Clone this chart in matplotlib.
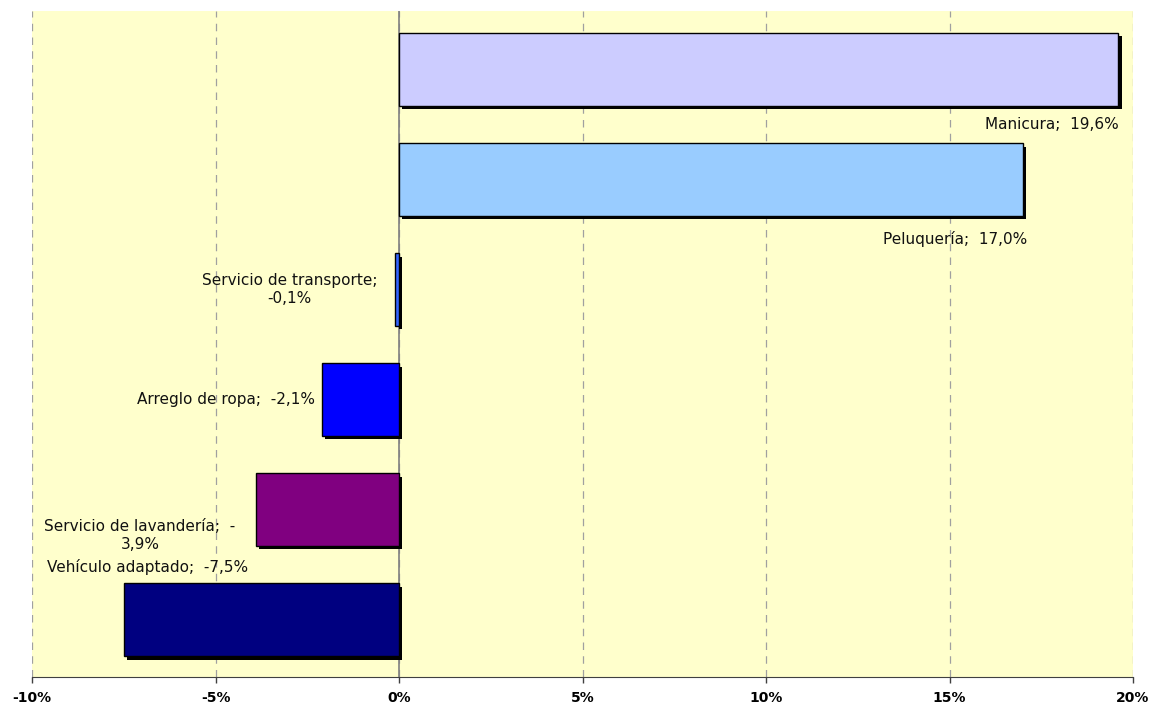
import matplotlib.pyplot as plt
import matplotlib.patheffects as pe
from matplotlib.ticker import FuncFormatter

categories = ["Manicura", "Peluquería", "Servicio de transporte",
              "Arreglo de ropa", "Servicio de lavandería", "Vehículo adaptado"]
values = [19.6, 17.0, -0.1, -2.1, -3.9, -7.5]
labels = ["Manicura;  19,6%", "Peluquería;  17,0%", "Servicio de transporte;\n-0,1%",
          "Arreglo de ropa;  -2,1%", "Servicio de lavandería;  -\n3,9%", "Vehículo adaptado;  -7,5%"]
colors = ["#CCCCFF", "#99CCFF", "#3366FF", "#0000FF", "#800080", "#000080"]

plt.rcParams['font.family'] = ['DejaVu Sans']

fig = plt.figure(figsize=(11.54, 7.09), dpi=100)
ax = fig.add_axes([32 / 1154, 1 - 677 / 709, 1101 / 1154, 666 / 709])
ax.set_facecolor("#FFFFCC")

ypos = list(range(len(categories)))
shadow = [pe.withSimplePatchShadow(offset=(2.5, -2.5), shadow_rgbFace="black", alpha=1.0)]
bars = ax.barh(ypos, values, height=0.66, color=colors, edgecolor="black",
               linewidth=1.0, zorder=3)
for b in bars:
    b.set_path_effects(shadow)

ax.set_xlim(-10, 20)
ax.set_ylim(5.52, -0.53)
ax.set_xticks([-10, -5, 0, 5, 10, 15, 20])
ax.xaxis.set_major_formatter(FuncFormatter(lambda v, p: f"{v:.0f}%"))
ax.set_yticks([])
ax.grid(axis="x", linestyle=(0, (6, 5)), color="#A0A0A0", linewidth=0.9, zorder=0)
ax.axvline(0, color="#808080", linewidth=1.2, zorder=2)

for s in ["top", "right", "left"]:
    ax.spines[s].set_visible(False)
ax.spines["bottom"].set_color("#404040")
ax.tick_params(axis="x", direction="out", length=4, width=1, color="#404040", pad=6,
               labelsize=10)
for t in ax.get_xticklabels():
    t.set_fontweight("bold")

# data labels (offsets in points from bar end)
px = 0.72
offsets = [(0, -55 * px, "right", "center"),
           (4 * px, -60 * px, "right", "center"),
           (-106 * px, 0, "center", "center"),
           (-7 * px, 0, "right", "center"),
           (-116 * px, -26 * px, "center", "center"),
           (24 * px, 53 * px, "center", "center")]
for i, (v, lab) in enumerate(zip(values, labels)):
    dx, dy, ha, va = offsets[i]
    ax.annotate(lab, xy=(v, i), xytext=(dx, dy), textcoords="offset points",
                ha=ha, va=va, multialignment="center", fontsize=11, color="#111111",
                linespacing=1.25, zorder=5)

fig.savefig("out.png", dpi=100)
